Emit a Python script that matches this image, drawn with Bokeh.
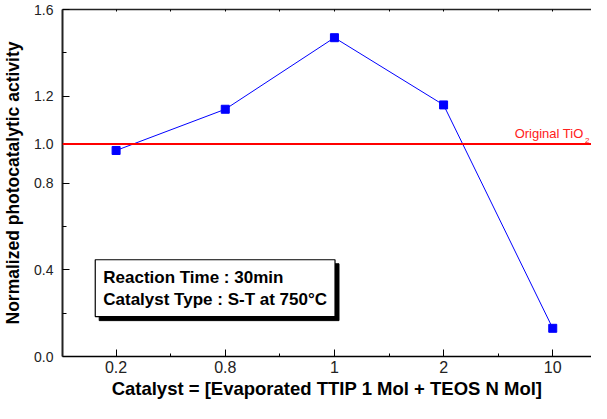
from bokeh.plotting import figure
from bokeh.models import (Range1d, FixedTicker, LinearAxis, Span, Label,
                          NumeralTickFormatter)
from bokeh.embed import file_html
from bokeh.resources import INLINE

# ---- data ----
categories = ["0.2", "0.8", "1", "2", "10"]
activity = [0.95, 1.14, 1.47, 1.16, 0.13]
reference_level = 0.98
y_ticks = [0.0, 0.4, 0.8, 0.98, 1.2, 1.6]
y_minor = [0.2, 0.6, 1.4]
ref_label = "Original TiO"
box_text = "Reaction Time : 30min\nCatalyst Type : S-T at 750\u00b0C"
x_title = "Catalyst = [Evaporated TTIP 1 Mol + TEOS N Mol]"
y_title = "Normalized photocatalytic activity"

xs = list(range(len(categories)))
FONT = "Liberation Sans"

W, H = 591, 403
p = figure(width=W, height=H, output_backend="svg", toolbar_location=None,
           x_range=Range1d(-0.491, 4.355), y_range=Range1d(0, 1.6),
           min_border_left=58, min_border_right=0, min_border_top=9,
           min_border_bottom=47, x_axis_label=x_title, y_axis_label=y_title)
p.outline_line_color = None
p.xgrid.visible = False
p.ygrid.visible = False
p.background_fill_color = "white"
p.border_fill_color = "white"

xt = FixedTicker(ticks=xs, minor_ticks=[i + 0.5 for i in xs[:-1]])
yt = FixedTicker(ticks=y_ticks, minor_ticks=y_minor)

xa = p.xaxis[0]
xa.ticker = xt
xa.major_label_overrides = {i: c for i, c in zip(xs, categories)}
xa.major_tick_in = 7
xa.major_tick_out = 0
xa.minor_tick_in = 3
xa.minor_tick_out = 0
xa.axis_line_width = 1.5
xa.axis_line_color = "black"
xa.major_tick_line_color = "black"
xa.minor_tick_line_color = "black"
xa.major_label_text_font = FONT
xa.major_label_text_font_size = "16px"
xa.major_label_text_color = "#222222"
xa.major_label_standoff = 4
xa.axis_label_text_font = FONT
xa.axis_label_text_font_size = "18.5px"
xa.axis_label_text_font_style = "bold"
xa.axis_label_text_color = "black"
xa.axis_label_standoff = 2

ya = p.yaxis[0]
ya.ticker = yt
ya.formatter = NumeralTickFormatter(format="0.0")
ya.major_tick_in = 7
ya.major_tick_out = 0
ya.minor_tick_in = 4
ya.minor_tick_out = 0
ya.axis_line_width = 2
ya.axis_line_color = "#222222"
ya.major_tick_line_color = "black"
ya.minor_tick_line_color = "black"
ya.major_label_text_font = FONT
ya.major_label_text_font_size = "14px"
ya.major_label_text_color = "#222222"
ya.major_label_standoff = 9
ya.axis_label_text_font = FONT
ya.axis_label_text_font_size = "17.5px"
ya.axis_label_text_font_style = "bold"
ya.axis_label_text_color = "black"
ya.axis_label_standoff = 8

top = LinearAxis(ticker=xt, major_label_text_font_size="0px",
                 major_label_standoff=0, major_tick_in=2, major_tick_out=0,
                 minor_tick_in=2, minor_tick_out=0, axis_line_width=1.5,
                 axis_line_color="#222222")
top.major_label_overrides = {i: "" for i in xs}
p.add_layout(top, "above")

# reference line
p.add_layout(Span(location=reference_level, dimension="width",
                  line_color="#ff0000", line_width=2))
p.add_layout(Label(x=4.355, y=reference_level + 0.012, text=ref_label,
                   x_offset=-8, text_align="right", text_baseline="bottom",
                   text_font=FONT, text_font_size="13px", text_color="#ff2020"))
p.add_layout(Label(x=4.355, y=reference_level + 0.006, text="2",
                   x_offset=-2, text_align="right", text_baseline="bottom",
                   text_font=FONT, text_font_size="8px", text_color="#ff2020"))

# series
p.line(xs, activity, line_color="#0000ff", line_width=1)
p.scatter(xs, activity, marker="square", size=8, fill_color="#0000ff",
          line_color="#0000ff")

# info box with shadow
bx = -0.491 + 33 / 110.0
by = 0.446
shadow_dx = 4 / 110.0
shadow_dy = 4 / 217.5
common = dict(text=box_text, text_align="left", text_baseline="top",
              text_font=FONT, text_font_size="17px", text_font_style="bold",
              text_line_height=1.15, padding=8)
p.add_layout(Label(x=bx + shadow_dx, y=by - shadow_dy, text_color="black",
                   background_fill_color="black", border_line_color="black",
                   **common))
p.add_layout(Label(x=bx, y=by, text_color="black",
                   background_fill_color="white", border_line_color="black",
                   border_line_width=1.2, **common))

open("out.html", "w").write(file_html(p, INLINE))
